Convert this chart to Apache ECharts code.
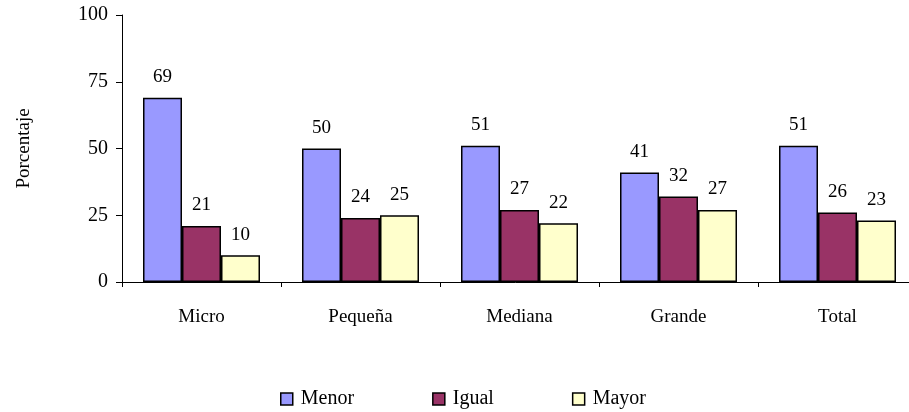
<!DOCTYPE html>
<html>
<head>
<meta charset="utf-8">
<script src="https://cdn.jsdelivr.net/npm/echarts@6/dist/echarts.min.js"></script>
<style>
html, body { margin: 0; padding: 0; background: #fff; }
#chart { width: 909px; height: 412px; }
</style>
</head>
<body>
<div id="chart"></div>
<script>
var categories = ['Micro', 'Pequeña', 'Mediana', 'Grande', 'Total'];
var seriesNames = ['Menor', 'Igual', 'Mayor'];
var menor = [69, 50, 51, 41, 51];
var igual = [21, 24, 27, 32, 26];
var mayor = [10, 25, 22, 27, 23];
var yTicks = [0, 25, 50, 75, 100];

var font = 'Liberation Serif';
var colors = ['#9999FF', '#993366', '#FFFFCC'];

var chart = echarts.init(document.getElementById('chart'));

function makeSeries(name, data, color) {
    return {
        name: name,
        type: 'bar',
        data: data,
        barWidth: 39,
        barGap: '0%',
        itemStyle: { color: color, borderColor: '#000', borderWidth: 1.5 },
        label: {
            show: true,
            position: 'top',
            distance: 11,
            color: '#000',
            fontFamily: font,
            fontSize: 19
        }
    };
}

var option = {
    animation: false,
    grid: { left: 122, top: 15, width: 795, height: 267, outerBoundsMode: 'none', containLabel: false },
    legend: {
        left: 280,
        top: 389,
        padding: 0,
        itemWidth: 12,
        itemHeight: 12,
        itemGap: 78,
        icon: 'rect',
        itemStyle: { borderColor: '#000', borderWidth: 1.5 },
        textStyle: { fontFamily: font, fontSize: 20, color: '#000', padding: [0, 0, 0, 3] },
        data: seriesNames
    },
    xAxis: {
        type: 'category',
        data: categories,
        axisLine: { lineStyle: { color: '#000', width: 1 } },
        axisTick: { show: true, length: 5, lineStyle: { color: '#000' } },
        axisLabel: { color: '#000', fontFamily: font, fontSize: 19, margin: 26 }
    },
    yAxis: {
        type: 'value',
        min: yTicks[0],
        max: yTicks[yTicks.length - 1],
        interval: 25,
        name: 'Porcentaje',
        nameLocation: 'middle',
        nameGap: 88,
        nameRotate: 90,
        nameTextStyle: { color: '#000', fontFamily: font, fontSize: 19 },
        splitLine: { show: false },
        axisLine: { show: true, lineStyle: { color: '#000', width: 1 } },
        axisTick: { show: true, length: 6, lineStyle: { color: '#000' } },
        axisLabel: { color: '#000', fontFamily: font, fontSize: 20, margin: 14 }
    },
    series: [
        makeSeries(seriesNames[0], menor, colors[0]),
        makeSeries(seriesNames[1], igual, colors[1]),
        makeSeries(seriesNames[2], mayor, colors[2])
    ]
};

chart.setOption(option);
</script>
</body>
</html>
